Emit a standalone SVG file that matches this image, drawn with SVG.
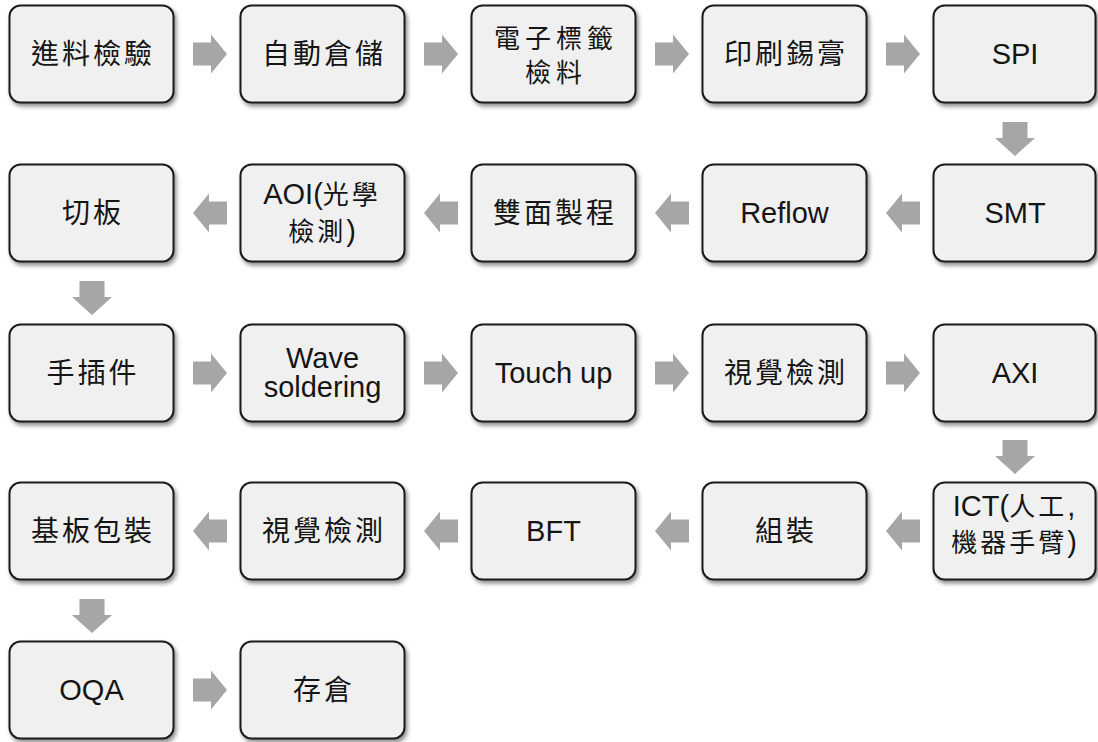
<svg xmlns="http://www.w3.org/2000/svg" width="1098" height="742" viewBox="0 0 1098 742">
<defs>
<filter id="sh" x="-10%" y="-10%" width="125%" height="130%">
<feDropShadow dx="2" dy="3" stdDeviation="2" flood-color="#000" flood-opacity="0.45"/>
</filter>
<style>
.box{fill:#f0f0f0;stroke:#1c1c1c;stroke-width:2;filter:url(#sh)}
.arr{fill:#a6a6a6;stroke:none}
text{fill:#151515;text-anchor:middle}
.lt{font-family:"Liberation Sans",Arial,sans-serif;font-size:29px}
.cj{font-family:"Noto Sans CJK TC","Noto Sans CJK SC",sans-serif;font-size:28px;letter-spacing:3px}
.cj2{font-family:"Noto Sans CJK TC","Noto Sans CJK SC",sans-serif;font-size:26px;letter-spacing:5px}
.cjt{font-family:"Noto Sans CJK TC","Noto Sans CJK SC",sans-serif;font-size:26px;letter-spacing:3px}
</style>
</defs>
<rect width="1098" height="742" fill="#ffffff"/>
<g id="connectors">
<path class="arr" d="M193,42.5H211V34.5L227,54L211,73.5V65.5H193Z"/>
<path class="arr" d="M424,42.5H442V34.5L458,54L442,73.5V65.5H424Z"/>
<path class="arr" d="M655,42.5H673V34.5L689,54L673,73.5V65.5H655Z"/>
<path class="arr" d="M886,42.5H904V34.5L920,54L904,73.5V65.5H886Z"/>
<path class="arr" d="M1002.5,122H1027.5V138H1035L1015,156L995,138H1002.5Z"/>
<path class="arr" d="M227,201.5H209V193.5L193,213L209,232.5V224.5H227Z"/>
<path class="arr" d="M458,201.5H440V193.5L424,213L440,232.5V224.5H458Z"/>
<path class="arr" d="M689,201.5H671V193.5L655,213L671,232.5V224.5H689Z"/>
<path class="arr" d="M920,201.5H902V193.5L886,213L902,232.5V224.5H920Z"/>
<path class="arr" d="M79.5,281H104.5V297H112L92,315L72,297H79.5Z"/>
<path class="arr" d="M193,361.5H211V353.5L227,373L211,392.5V384.5H193Z"/>
<path class="arr" d="M424,361.5H442V353.5L458,373L442,392.5V384.5H424Z"/>
<path class="arr" d="M655,361.5H673V353.5L689,373L673,392.5V384.5H655Z"/>
<path class="arr" d="M886,361.5H904V353.5L920,373L904,392.5V384.5H886Z"/>
<path class="arr" d="M1002.5,440H1027.5V456H1035L1015,474L995,456H1002.5Z"/>
<path class="arr" d="M227,519.5H209V511.5L193,531L209,550.5V542.5H227Z"/>
<path class="arr" d="M458,519.5H440V511.5L424,531L440,550.5V542.5H458Z"/>
<path class="arr" d="M689,519.5H671V511.5L655,531L671,550.5V542.5H689Z"/>
<path class="arr" d="M920,519.5H902V511.5L886,531L902,550.5V542.5H920Z"/>
<path class="arr" d="M79.5,599H104.5V615H112L92,633L72,615H79.5Z"/>
<path class="arr" d="M193,678.5H211V670.5L227,690L211,709.5V701.5H193Z"/>
</g>
<g id="n1"><rect class="box" x="9.5" y="5.5" width="164" height="97" rx="11"/><text class="cj" x="93" y="64">進料檢驗</text></g>
<g id="n2"><rect class="box" x="240.5" y="5.5" width="164" height="97" rx="11"/><text class="cj" x="324" y="64">自動倉儲</text></g>
<g id="n3"><rect class="box" x="471.5" y="5.5" width="164" height="97" rx="11"/><text class="cj2" x="556" y="48">電子標籤</text><text class="cj2" x="556" y="82">檢料</text></g>
<g id="n4"><rect class="box" x="702.5" y="5.5" width="164" height="97" rx="11"/><text class="cj" x="786" y="64">印刷錫膏</text></g>
<g id="n5"><rect class="box" x="933.5" y="5.5" width="162" height="97" rx="11"/><text class="lt" x="1015" y="64">SPI</text></g>
<g id="n6"><rect class="box" x="933.5" y="164.5" width="162" height="97" rx="11"/><text class="lt" x="1015" y="223">SMT</text></g>
<g id="n7"><rect class="box" x="702.5" y="164.5" width="164" height="97" rx="11"/><text class="lt" x="784.5" y="223">Reflow</text></g>
<g id="n8"><rect class="box" x="471.5" y="164.5" width="164" height="97" rx="11"/><text class="cj" x="555" y="223">雙面製程</text></g>
<g id="n9"><rect class="box" x="240.5" y="164.5" width="164" height="97" rx="11"/><text x="322" y="204"><tspan class="lt">AOI(</tspan><tspan class="cjt">光學</tspan></text><text x="322" y="241"><tspan class="cjt">檢測</tspan><tspan class="lt">)</tspan></text></g>
<g id="n10"><rect class="box" x="9.5" y="164.5" width="164" height="97" rx="11"/><text class="cj" x="93" y="223">切板</text></g>
<g id="n11"><rect class="box" x="9.5" y="324.5" width="164" height="97" rx="11"/><text class="cj" x="93" y="383">手插件</text></g>
<g id="n12"><rect class="box" x="240.5" y="324.5" width="164" height="97" rx="11"/><text class="lt" x="322.5" y="368">Wave</text><text class="lt" x="322.5" y="397">soldering</text></g>
<g id="n13"><rect class="box" x="471.5" y="324.5" width="164" height="97" rx="11"/><text class="lt" x="553.5" y="383">Touch up</text></g>
<g id="n14"><rect class="box" x="702.5" y="324.5" width="164" height="97" rx="11"/><text class="cj" x="786" y="383">視覺檢測</text></g>
<g id="n15"><rect class="box" x="933.5" y="324.5" width="162" height="97" rx="11"/><text class="lt" x="1015" y="383">AXI</text></g>
<g id="n16"><rect class="box" x="933.5" y="482.5" width="162" height="97" rx="11"/><text x="1014" y="516"><tspan class="lt">ICT(</tspan><tspan class="cjt">人工</tspan><tspan class="lt">,</tspan></text><text x="1014" y="552"><tspan class="cjt">機器手臂</tspan><tspan class="lt">)</tspan></text></g>
<g id="n17"><rect class="box" x="702.5" y="482.5" width="164" height="97" rx="11"/><text class="cj" x="786" y="541">組裝</text></g>
<g id="n18"><rect class="box" x="471.5" y="482.5" width="164" height="97" rx="11"/><text class="lt" x="553.5" y="541">BFT</text></g>
<g id="n19"><rect class="box" x="240.5" y="482.5" width="164" height="97" rx="11"/><text class="cj" x="324" y="541">視覺檢測</text></g>
<g id="n20"><rect class="box" x="9.5" y="482.5" width="164" height="97" rx="11"/><text class="cj" x="93" y="541">基板包裝</text></g>
<g id="n21"><rect class="box" x="9.5" y="641.5" width="164" height="97" rx="11"/><text class="lt" x="91.5" y="700">OQA</text></g>
<g id="n22"><rect class="box" x="240.5" y="641.5" width="164" height="97" rx="11"/><text class="cj" x="324" y="700">存倉</text></g>
</svg>
